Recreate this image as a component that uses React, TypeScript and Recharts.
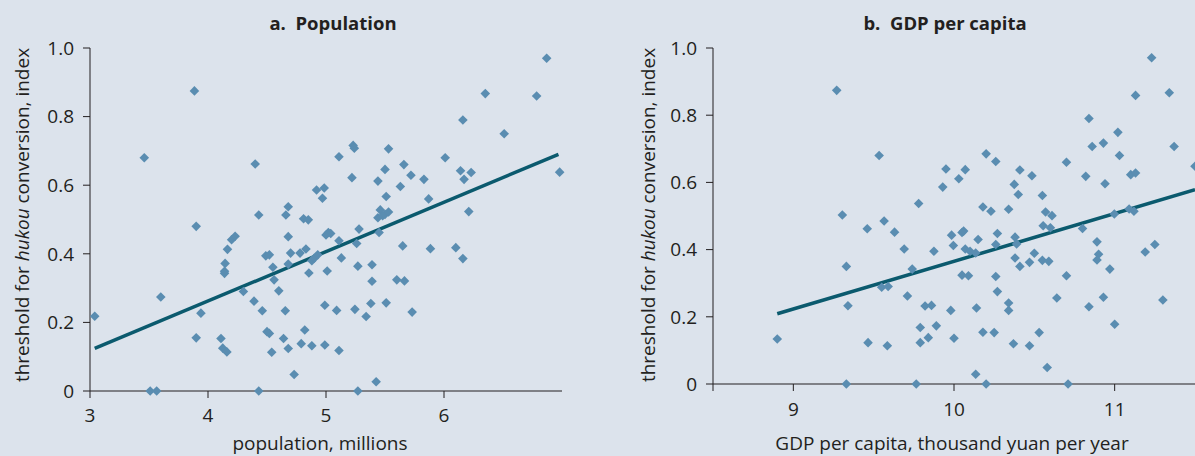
import { ScatterChart, Scatter, XAxis, YAxis, ReferenceLine } from 'recharts';

// panel a: population (millions) vs hukou threshold index
const popPoints: [number, number][] = [
  [3.885, 0.875], [3.46, 0.68], [6.87, 0.97], [6.35, 0.867], [6.785, 0.86], [6.16, 0.79],
  [6.51, 0.75], [4.4, 0.662], [5.11, 0.683], [5.23, 0.716], [5.24, 0.708], [5.53, 0.706],
  [6.01, 0.68], [5.22, 0.622], [5.44, 0.612], [5.5, 0.646], [5.66, 0.66], [5.72, 0.629],
  [5.83, 0.617], [6.14, 0.642], [6.17, 0.617], [6.23, 0.637], [6.98, 0.638], [4.92, 0.586],
  [4.985, 0.592], [4.97, 0.562], [5.63, 0.596], [5.51, 0.567], [5.87, 0.56], [6.21, 0.523],
  [4.43, 0.513], [4.66, 0.513], [4.68, 0.537], [4.81, 0.502], [4.85, 0.499], [3.9, 0.48],
  [5.44, 0.505], [5.46, 0.528], [5.48, 0.511], [5.5, 0.515], [5.53, 0.522], [5.28, 0.472],
  [3.04, 0.218], [3.51, 0], [3.565, 0], [3.6, 0.274], [3.94, 0.227], [3.9, 0.155],
  [4.165, 0.413], [4.145, 0.372], [4.14, 0.349], [4.14, 0.343], [4.2, 0.441], [4.23, 0.451],
  [4.11, 0.153], [4.125, 0.125], [4.16, 0.114], [4.3, 0.29], [4.39, 0.262], [4.46, 0.234],
  [4.43, 0], [4.49, 0.394], [4.52, 0.397], [4.55, 0.361], [4.56, 0.324], [4.6, 0.292],
  [4.655, 0.234], [4.5, 0.173], [4.52, 0.168], [4.64, 0.153], [4.54, 0.113], [4.68, 0.124],
  [4.73, 0.048], [4.68, 0.45], [4.7, 0.402], [4.68, 0.37], [4.78, 0.402], [4.83, 0.414],
  [4.88, 0.38], [4.9, 0.387], [4.93, 0.397], [4.855, 0.344], [4.82, 0.178], [4.79, 0.138],
  [4.88, 0.132], [4.99, 0.134], [4.99, 0.25], [5.09, 0.235], [5.01, 0.35], [5.0, 0.455],
  [5.02, 0.462], [5.04, 0.459], [5.11, 0.438], [5.13, 0.388], [5.11, 0.118], [5.26, 0.43],
  [5.27, 0.364], [5.245, 0.238], [5.27, 0], [5.34, 0.217], [5.38, 0.255], [5.39, 0.368],
  [5.39, 0.32], [5.45, 0.462], [5.425, 0.027], [5.51, 0.257], [5.6, 0.324], [5.665, 0.321],
  [5.65, 0.423], [5.73, 0.23], [5.885, 0.415], [6.1, 0.418], [6.16, 0.386],
];

// panel b: GDP per capita (thousand yuan) vs hukou threshold index
const gdpPoints: [number, number][] = [
  [9.27, 0.874], [11.23, 0.971], [11.34, 0.867], [11.13, 0.859], [10.84, 0.79], [11.02, 0.749],
  [10.86, 0.707], [10.93, 0.717], [11.37, 0.707], [11.03, 0.68], [9.534, 0.68], [10.2, 0.685],
  [10.26, 0.662], [10.7, 0.66], [11.5, 0.648], [9.95, 0.64], [10.07, 0.638], [10.41, 0.637],
  [10.03, 0.611], [9.93, 0.586], [10.485, 0.62], [10.82, 0.618], [10.375, 0.594], [10.4, 0.564],
  [10.55, 0.561], [10.94, 0.596], [11.1, 0.623], [11.13, 0.628], [9.78, 0.537], [9.305, 0.503],
  [9.565, 0.485], [10.18, 0.527], [10.23, 0.514], [10.34, 0.52], [10.57, 0.512], [10.61, 0.501],
  [10.998, 0.506], [11.09, 0.521], [11.12, 0.514], [10.555, 0.471], [10.6, 0.465],
  [9.46, 0.462], [9.63, 0.452], [9.69, 0.402], [9.985, 0.443], [9.996, 0.412], [10.05, 0.451],
  [10.06, 0.455], [10.07, 0.402], [10.1, 0.395], [10.15, 0.43], [10.135, 0.39], [10.27, 0.448],
  [10.26, 0.415], [10.38, 0.437], [10.39, 0.417], [10.38, 0.375], [10.47, 0.362], [10.5, 0.389],
  [10.41, 0.35], [10.55, 0.368], [10.59, 0.365], [10.8, 0.463], [10.89, 0.423], [10.9, 0.386],
  [10.89, 0.369], [10.97, 0.342], [11.19, 0.393], [11.25, 0.415], [11.3, 0.25], [9.875, 0.395],
  [9.74, 0.342], [10.05, 0.324], [10.09, 0.322], [10.26, 0.32], [10.7, 0.322], [10.27, 0.275],
  [9.33, 0.35], [9.34, 0.233], [9.55, 0.288], [9.59, 0.29], [9.71, 0.262], [9.82, 0.232],
  [9.86, 0.234], [9.98, 0.219], [10.14, 0.226], [10.34, 0.241], [10.34, 0.219], [10.64, 0.256],
  [10.84, 0.23], [10.93, 0.258], [11.0, 0.178], [8.9, 0.134], [9.465, 0.123], [9.585, 0.114],
  [9.79, 0.168], [9.79, 0.123], [9.84, 0.138], [9.89, 0.173], [10.0, 0.136], [10.18, 0.154],
  [10.25, 0.153], [10.37, 0.12], [10.47, 0.114], [10.53, 0.153], [10.135, 0.029], [10.58, 0.049],
  [9.33, 0], [9.765, 0], [10.2, 0], [10.71, 0],
];

// fitted lines (end points)
const popFit: [number, number][] = [[3.04, 0.124], [6.97, 0.69]];
const gdpFit: [number, number][] = [[8.9, 0.209], [11.5, 0.578]];

const yTicks = [0, 0.2, 0.4, 0.6, 0.8, 1.0];
const popTicks = [3, 4, 5, 6];
const gdpTicks = [8.5, 9, 10, 11];

const BG = '#dce3ec';
const DOT = '#5a8db1';
const FIT = '#0b5a6e';
const INK = '#231f20';
const FONT = '"Open Sans", sans-serif';

const toXY = (pts: [number, number][]) => pts.map(([x, y]) => ({ x, y }));

const Diamond = (props: any) => {
  const { cx, cy } = props;
  const r = 4.8;
  return <path d={`M${cx},${cy - r}L${cx + r},${cy}L${cx},${cy + r}L${cx - r},${cy}Z`} fill={DOT} />;
};

const yFmt = (v: number) => (v === 0 ? '0' : v.toFixed(1));
const tickStyle = { fill: INK, fontSize: 19, fontFamily: FONT };

const YLabel = ({ left }: { left: number }) => (
  <div
    style={{
      position: 'absolute', left, top: 215, transform: 'translate(-50%, -50%) rotate(-90deg)',
      whiteSpace: 'nowrap', fontSize: 19, color: INK,
    }}
  >
    threshold for <i>hukou</i> conversion, index
  </div>
);

const Centered = ({ left, top, bold, children }: { left: number; top: number; bold?: boolean; children: any }) => (
  <div
    style={{
      position: 'absolute', left, top, transform: 'translate(-50%, -50%)', whiteSpace: 'nowrap',
      fontSize: bold ? 18.5 : 19, fontWeight: bold ? 700 : 400, color: INK,
    }}
  >
    {children}
  </div>
);

export default function App() {
  const [a0, a1] = popFit;
  const [b0, b1] = gdpFit;
  return (
    <div
      style={{
        position: 'absolute', left: 0, top: 0, width: 1195, height: 456, overflow: 'hidden',
        background: BG, fontFamily: FONT,
      }}
    >
      <div style={{ position: 'absolute', left: 0, top: 0 }}>
        <ScatterChart width={600} height={456} margin={{ top: 48, right: 38, bottom: 0, left: 0 }}>
          <XAxis
            type="number" dataKey="x" domain={[3, 7]} ticks={popTicks} height={65}
            tickSize={7} tickMargin={11} tick={tickStyle}
            axisLine={{ stroke: INK }} tickLine={{ stroke: INK }}
          />
          <YAxis
            type="number" dataKey="y" domain={[0, 1]} ticks={yTicks} width={90}
            tickSize={7} tickMargin={9} tick={tickStyle} tickFormatter={yFmt}
            axisLine={{ stroke: INK }} tickLine={{ stroke: INK }}
          />
          <Scatter data={toXY(popPoints)} shape={Diamond} isAnimationActive={false} />
          <ReferenceLine
            segment={[{ x: a0[0], y: a0[1] }, { x: a1[0], y: a1[1] }]}
            stroke={FIT} strokeWidth={3.5} ifOverflow="visible"
          />
        </ScatterChart>
      </div>
      <div style={{ position: 'absolute', left: 600, top: 0 }}>
        <ScatterChart width={595} height={456} margin={{ top: 48, right: 0, bottom: 0, left: 0 }}>
          <XAxis
            type="number" dataKey="x" domain={[8.5, 11.5]} ticks={gdpTicks} height={72}
            tickSize={7} tickMargin={12} tick={tickStyle}
            tickFormatter={(v: number) => (v === 8.5 ? '' : String(v))}
            axisLine={{ stroke: INK }} tickLine={{ stroke: INK }}
          />
          <YAxis
            type="number" dataKey="y" domain={[0, 1]} ticks={yTicks} width={113}
            tickSize={7} tickMargin={9} tick={tickStyle} tickFormatter={yFmt}
            axisLine={{ stroke: INK }} tickLine={{ stroke: INK }}
          />
          <Scatter data={toXY(gdpPoints)} shape={Diamond} isAnimationActive={false} />
          <ReferenceLine
            segment={[{ x: b0[0], y: b0[1] }, { x: b1[0], y: b1[1] }]}
            stroke={FIT} strokeWidth={3.5} ifOverflow="visible"
          />
        </ScatterChart>
      </div>

      <Centered left={333} top={22} bold>a.&nbsp; Population</Centered>
      <Centered left={945} top={22} bold>b.&nbsp; GDP per capita</Centered>
      <Centered left={320} top={443}>population, millions</Centered>
      <Centered left={952} top={443}>GDP per capita, thousand yuan per year</Centered>
      <YLabel left={22} />
      <YLabel left={648} />
    </div>
  );
}
